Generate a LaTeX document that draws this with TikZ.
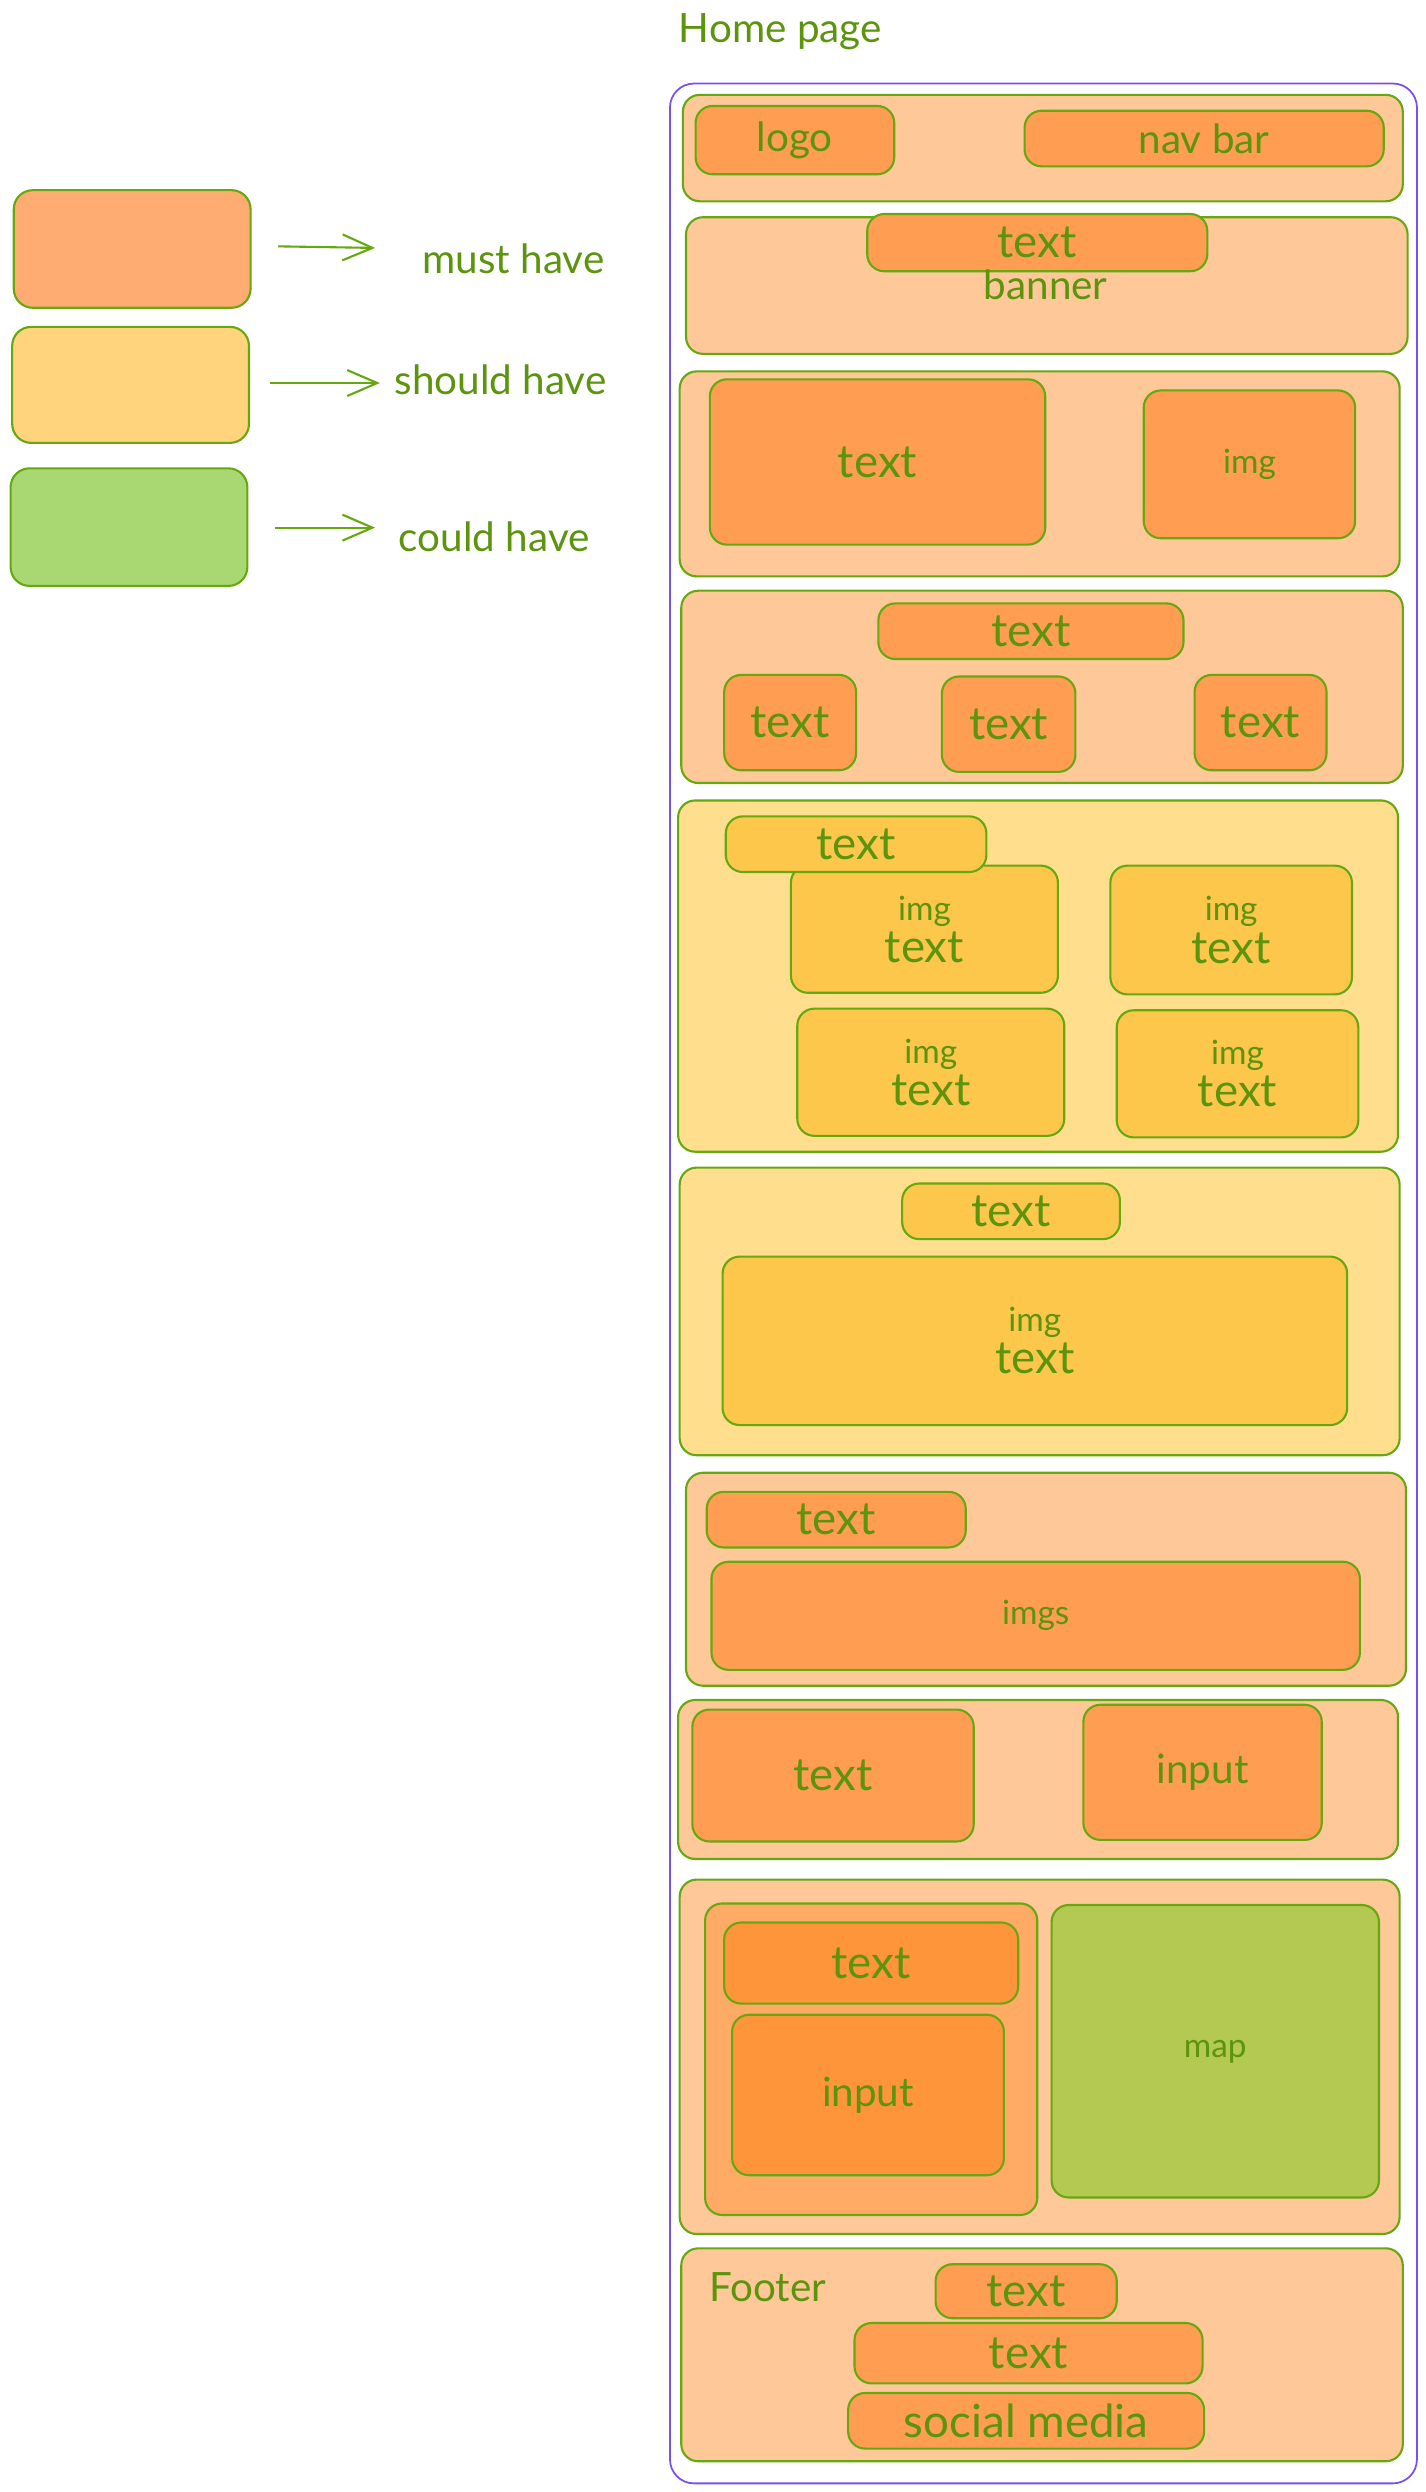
\documentclass[tikz,border=0pt]{standalone}
\usepackage{fontspec}
\setmainfont{Lato}
\usetikzlibrary{arrows.meta}
\definecolor{strk}{HTML}{66A80F}
\definecolor{txt}{HTML}{5C940D}
\definecolor{frame}{HTML}{7950F2}
\definecolor{oOut}{HTML}{FFC898}
\definecolor{oIn}{HTML}{FF9E52}
\definecolor{oMid}{HTML}{FFAA65}
\definecolor{oDeep}{HTML}{FF953A}
\definecolor{yOut}{HTML}{FFDE8E}
\definecolor{yIn}{HTML}{FDC74C}
\definecolor{gMap}{HTML}{B4C952}
\definecolor{legO}{HTML}{FFAC72}
\definecolor{legY}{HTML}{FFD47C}
\definecolor{legG}{HTML}{A9D872}
\newcommand\fbig{\fontsize{13}{12}\selectfont}
\newcommand\fmed{\fontsize{11.5}{13}\selectfont}
\newcommand\fsml{\fontsize{9.5}{11}\selectfont}
\newcommand\imgtext{{\fsml img}\\text}
\newcommand\bx[7]{\node[#2, minimum width={(#5-#3)*0.015897cm}, minimum height={(#6-#4)*0.015897cm}, anchor=north west] (#1) at (#3,#4) {#7};}
\tikzset{
  base/.style={draw=strk, line width=0.6pt, rounded corners=0.17cm, inner sep=0pt, text=txt, font=\fbig, align=center},
  secO/.style={base, fill=oOut},
  secY/.style={base, fill=yOut},
  inO/.style={base, fill=oIn},
  inY/.style={base, fill=yIn},
  midO/.style={base, fill=oMid},
  deepO/.style={base, fill=oDeep},
  mapG/.style={base, fill=gMap},
  lbl/.style={text=txt, inner sep=0pt},
  arr/.style={draw=strk, line width=0.6pt, -{Straight Barb[length=3mm,width=2.6mm]}},
}
\begin{document}
\begin{tikzpicture}[x=0.015897cm, y=-0.015897cm]
\useasboundingbox (0,0) rectangle (897,1568);
% legend
\bx{legM}{base, fill=legO, rounded corners=0.19cm}{8}{119}{157}{193}{}
\bx{legS}{base, fill=legY, rounded corners=0.19cm}{7}{205}{156}{278}{}
\bx{legC}{base, fill=legG, rounded corners=0.19cm}{6}{294}{155}{368}{}
\coordinate (a1s) at (175,155); \coordinate (a1e) at (236,156);
\coordinate (a2s) at (170,241); \coordinate (a2e) at (239,241);
\coordinate (a3s) at (173,332); \coordinate (a3e) at (236,332);
\draw[arr] (a1s) -- (a1e);
\draw[arr] (a2s) -- (a2e);
\draw[arr] (a3s) -- (a3e);
\node[lbl, font=\fmed] (lm) at (323,163) {must have};
\node[lbl, font=\fmed] (ls) at (315,239) {should have};
\node[lbl, font=\fmed] (lc) at (311,338) {could have};
% title and frame
\node[lbl, font=\fmed] (title) at (491,20) {Home page};
\bx{frm}{draw=frame, line width=0.5pt, rounded corners=0.24cm}{421}{52}{891}{1562}{}
% header
\bx{hdr}{secO}{429}{59}{882}{126}{}
\bx{logo}{inO}{437}{66}{562}{109}{\fmed logo}
\bx{nav}{inO}{644}{69}{870}{104}{\fmed nav bar}
% banner
\bx{ban}{secO}{431}{136}{885}{222}{}
\bx{bantxt}{inO}{545}{134}{759}{170}{text}
\node[lbl, font=\fmed] (banlbl) at (658,179) {banner};
% section 3
\bx{s3}{secO}{427}{233}{880}{362}{}
\bx{s3t}{inO}{446}{238}{657}{342}{text}
\bx{s3i}{inO}{719}{245}{852}{338}{\fsml img}
% section 4
\bx{s4}{secO}{428}{371}{882}{492}{}
\bx{s4t}{inO}{552}{379}{744}{414}{text}
\bx{s4a}{inO}{455}{424}{538}{484}{text}
\bx{s4b}{inO}{592}{425}{676}{485}{text}
\bx{s4c}{inO}{751}{424}{834}{484}{text}
% section 5
\bx{s5}{secY}{426}{503}{879}{724}{}
\bx{s5a}{inY}{497}{544}{665}{624}{\imgtext}
\bx{s5t}{inY}{456}{513}{620}{548}{text}
\bx{s5b}{inY}{698}{544}{850}{625}{\imgtext}
\bx{s5c}{inY}{501}{634}{669}{714}{\imgtext}
\bx{s5d}{inY}{702}{635}{854}{715}{\imgtext}
% section 6
\bx{s6}{secY}{427}{734}{880}{915}{}
\bx{s6t}{inY}{567}{744}{704}{779}{text}
\bx{s6i}{inY}{454}{790}{847}{896}{\imgtext}
% section 7
\bx{s7}{secO}{431}{926}{884}{1060}{}
\bx{s7t}{inO}{444}{938}{607}{973}{text}
\bx{s7i}{inO}{447}{982}{855}{1050}{\fsml imgs}
% section 8
\bx{s8}{secO}{426}{1069}{879}{1169}{}
\bx{s8t}{inO}{435}{1075}{612}{1158}{text}
\bx{s8i}{inO}{681}{1072}{831}{1157}{\fmed input}
% section 9
\bx{s9}{secO}{427}{1182}{880}{1405}{}
\bx{s9c}{midO}{443}{1197}{652}{1393}{}
\bx{s9t}{deepO}{455}{1209}{640}{1260}{text}
\bx{s9i}{deepO}{460}{1267}{631}{1368}{\fmed input}
\bx{s9m}{mapG}{661}{1198}{867}{1382}{\fsml map}
% footer
\bx{ft}{secO}{428}{1414}{882}{1548}{}
\node[lbl, font=\fmed] (ftlbl) at (483,1439) {Footer};
\bx{ft1}{inO}{588}{1424}{702}{1458}{text}
\bx{ft2}{inO}{537}{1461}{756}{1499}{text}
\bx{ft3}{inO}{533}{1505}{757}{1540}{social media}
\end{tikzpicture}
\end{document}
